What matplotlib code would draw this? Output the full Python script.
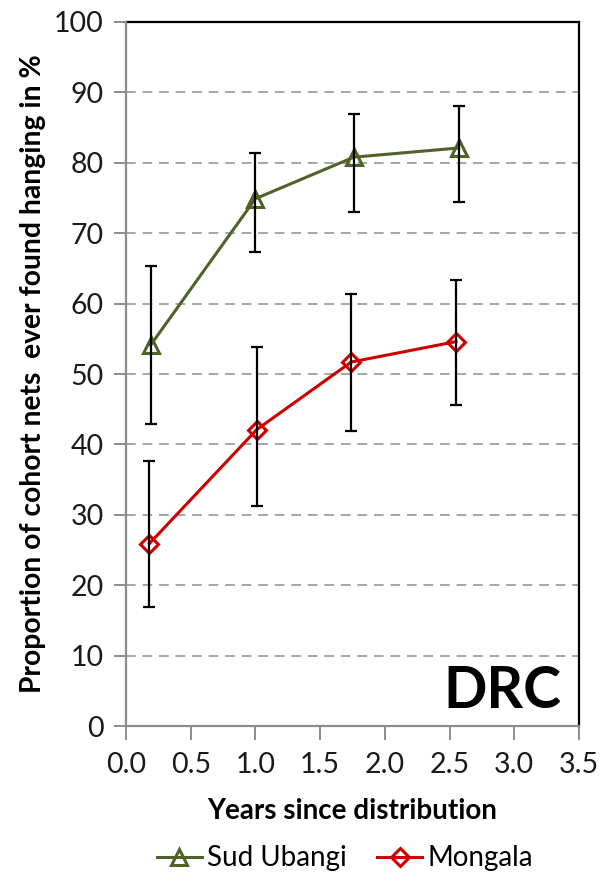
import matplotlib
matplotlib.use("Agg")
import matplotlib.pyplot as plt
from matplotlib.lines import Line2D

plt.rcParams['font.family'] = ['Lato', 'DejaVu Sans']

# Sud Ubangi cohort
sud_years = [0.19, 1.00, 1.76, 2.57]
sud_pct = [54.1, 74.9, 80.8, 82.1]
sud_lo = [42.9, 67.3, 73.0, 74.4]
sud_hi = [65.4, 81.4, 86.9, 88.0]

# Mongala cohort
mon_years = [0.18, 1.01, 1.74, 2.55]
mon_pct = [25.9, 42.1, 51.7, 54.6]
mon_lo = [16.9, 31.3, 41.9, 45.6]
mon_hi = [37.6, 53.8, 61.4, 63.4]

x_ticks = [0.0, 0.5, 1.0, 1.5, 2.0, 2.5, 3.0, 3.5]
y_ticks = [0, 10, 20, 30, 40, 50, 60, 70, 80, 90, 100]

GREEN = '#4F6228'
RED = '#CC0000'
AXIS_GREY = '#8C8C8C'

fig = plt.figure(figsize=(6.0, 8.72), dpi=100)
ax = fig.add_axes([0.21, 0.1674, 0.755, 0.8074])

for y in y_ticks[1:-1]:
    ax.axhline(y, color='#A6A6A6', lw=1.4, ls=(0, (5, 3.5)), zorder=1)


def draw_series(xs, ys, lo, hi, color, marker, ms):
    ax.plot(xs, ys, color=color, lw=2.2, marker=marker, ms=ms,
            mfc='none', mec=color, mew=2.2, zorder=3)
    err = [[v - l for v, l in zip(ys, lo)], [h - v for v, h in zip(ys, hi)]]
    ax.errorbar(xs, ys, yerr=err, fmt='none', ecolor='black',
                elinewidth=1.6, capsize=4.5, capthick=1.6, zorder=4)


draw_series(sud_years, sud_pct, sud_lo, sud_hi, GREEN, '^', 12)
draw_series(mon_years, mon_pct, mon_lo, mon_hi, RED, 'D', 9.5)

ax.set_xlim(0, 3.5)
ax.set_ylim(0, 100)
ax.set_xticks(x_ticks)
ax.set_xticklabels([f'{v:.1f}' for v in x_ticks])
ax.set_yticks(y_ticks)

for side in ('top', 'right'):
    ax.spines[side].set_color('black')
    ax.spines[side].set_linewidth(1.6)
for side in ('left', 'bottom'):
    ax.spines[side].set_color(AXIS_GREY)
    ax.spines[side].set_linewidth(1.6)
    ax.spines[side].set_zorder(5)

ax.tick_params(axis='both', direction='out', color=AXIS_GREY, width=1.4,
               labelsize=20.5, labelcolor='#1a1a1a')
ax.tick_params(axis='y', length=9, pad=7)
ax.tick_params(axis='x', length=10, pad=9)

ax.set_xlabel('Years since distribution', fontsize=20, fontweight='bold',
              labelpad=14)
ax.set_ylabel('Proportion of cohort nets  ever found hanging in %',
              fontsize=20.3, fontweight='bold', labelpad=6)

ax.text(0.96, 0.012, 'DRC', transform=ax.transAxes, ha='right', va='bottom',
        fontsize=41, fontweight='bold', color='black')

handles = [
    Line2D([], [], color=GREEN, lw=2.2, marker='^', ms=11, mfc='none',
           mec=GREEN, mew=2.2),
    Line2D([], [], color=RED, lw=2.2, marker='D', ms=9, mfc='none',
           mec=RED, mew=2.2),
]
fig.legend(handles, ['Sud Ubangi', 'Mongala'], loc='lower center',
           bbox_to_anchor=(0.575, -0.028), ncol=2, frameon=False,
           fontsize=20, handlelength=1.6, handletextpad=0.2,
           columnspacing=1.1)

fig.savefig('out.png', dpi=100)
